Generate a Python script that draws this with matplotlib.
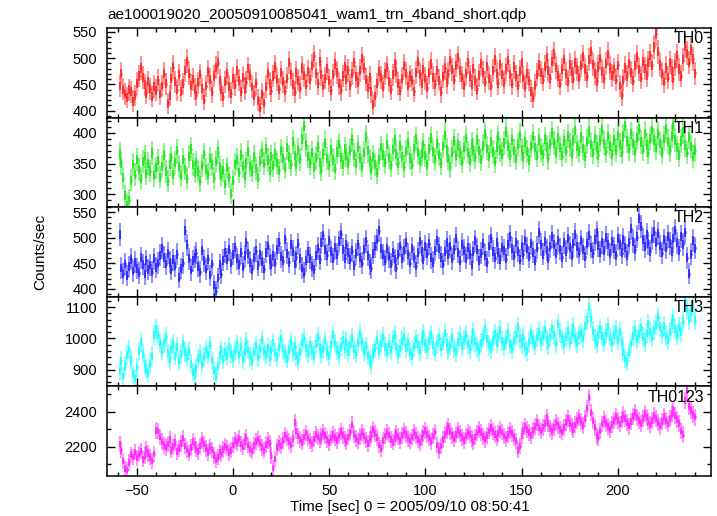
import numpy as np
import matplotlib
matplotlib.use('Agg')
import matplotlib.pyplot as plt
from matplotlib.ticker import MultipleLocator

plt.rcParams['font.family'] = ['Liberation Sans', 'DejaVu Sans']

t_start = -59  # first 1-s bin centre

th0 = [
    447,470,441,432,425,440,436,418,429,452,466,481,463,449,433,455,442,427,446,439,
    458,432,447,470,451,414,429,461,483,455,440,468,437,451,476,494,470,448,459,441,
    430,453,468,442,421,447,475,459,436,466,482,491,458,440,427,455,471,446,433,462,
    449,476,458,437,463,441,455,480,467,445,429,452,420,406,431,415,446,470,452,438,
    466,483,459,441,472,455,438,462,491,469,450,436,473,458,444,481,467,449,475,460,
    486,503,471,452,494,468,447,462,480,457,439,468,489,473,451,440,466,484,459,477,
    448,470,492,465,453,476,499,481,459,444,463,436,412,428,451,475,463,446,470,482,
    456,441,468,490,474,452,439,462,486,471,447,466,458,437,473,493,469,452,478,461,
    444,472,489,463,450,477,458,436,465,481,454,470,495,478,459,486,501,476,463,448,
    471,492,466,449,480,458,441,467,490,473,455,484,461,447,476,496,470,452,488,469,
    454,479,495,468,451,483,466,448,474,492,463,446,471,458,437,425,448,469,487,472,
    459,484,501,476,462,493,508,482,466,451,479,497,470,456,488,474,461,492,478,463,
    486,503,479,465,497,512,488,471,456,483,499,475,462,490,507,481,467,478,459,486,
    447,430,458,481,466,490,473,457,486,502,478,463,494,480,467,491,505,486,521,546,
    512,487,470,455,481,463,492,476,461,488,504,479,466,497,522,509,491,515,498,471,
]

th1 = [
    366,351,327,298,283,291,323,349,332,357,340,326,353,362,334,350,338,367,330,343,
    355,328,346,364,337,321,349,360,333,352,371,345,330,357,341,326,362,374,349,336,
    352,338,322,347,365,341,333,358,349,327,354,369,344,330,339,317,343,328,301,322,
    349,357,336,364,345,329,351,370,346,338,361,342,327,355,368,350,374,356,339,362,
    347,366,352,339,371,358,343,376,361,349,385,363,348,372,357,390,411,380,362,351,
    368,344,359,377,352,340,366,383,358,347,372,356,342,369,381,360,349,374,363,351,
    372,389,364,350,377,359,346,368,393,371,355,341,362,348,335,357,376,364,352,381,
    360,347,373,388,366,351,379,362,345,370,384,359,348,375,390,368,354,366,381,363,
    349,374,392,370,357,383,365,351,378,396,372,358,345,369,387,364,380,367,353,376,
    391,368,356,382,373,360,388,371,357,379,398,375,362,386,369,354,377,393,372,366,
    384,402,379,364,389,371,358,381,396,373,361,385,370,356,378,394,376,363,388,372,
    365,390,377,359,382,400,384,369,392,376,363,387,371,395,381,366,389,404,378,370,
    393,375,362,386,402,381,368,391,377,364,389,405,383,370,394,379,366,388,372,396,
    381,369,395,412,387,374,398,383,370,392,407,385,373,399,381,368,390,404,388,376,
    398,383,369,391,406,386,372,395,411,389,376,364,387,402,380,368,393,378,362,372,
]

th2 = [
    506,441,430,449,426,444,458,435,452,440,431,461,448,429,455,438,447,433,459,442,
    451,466,480,462,449,470,452,438,457,445,468,422,440,451,514,486,459,437,455,462,
    470,444,433,476,455,439,458,427,449,407,395,421,448,430,456,472,458,477,451,468,
    482,459,448,471,443,465,491,470,452,438,461,475,446,468,453,439,472,484,458,447,
    466,451,478,490,463,455,497,470,452,486,474,449,463,488,459,441,432,455,473,460,
    444,438,465,479,458,490,505,478,466,495,473,459,481,468,492,507,477,460,486,471,
    458,475,446,469,487,462,451,478,493,466,448,441,470,483,496,514,480,467,455,479,
    463,449,472,457,441,468,484,460,475,490,468,451,479,462,445,471,492,474,458,483,
    469,488,461,452,476,495,480,462,449,474,491,468,483,459,478,498,472,455,487,475,
    460,481,468,447,473,494,477,456,470,488,466,452,484,499,474,461,490,471,458,482,
    476,459,487,502,479,465,491,474,457,484,468,495,480,463,489,472,456,481,511,487,
    468,492,476,459,483,503,486,470,495,478,462,490,474,499,481,465,488,507,483,471,
    494,478,463,489,504,482,470,496,511,485,472,491,476,500,487,469,493,480,466,498,
    486,471,497,482,466,491,518,493,477,502,538,522,497,483,506,489,474,498,512,490,
    509,484,471,496,481,502,489,474,499,515,490,476,503,487,511,461,430,468,495,480,
]

th3 = [
    896,928,879,913,947,965,931,886,873,908,959,988,951,918,900,890,919,945,1011,1029,
    1012,986,961,985,1004,953,930,966,982,945,972,928,950,983,957,939,961,919,893,883,
    908,936,952,917,941,965,948,978,931,899,878,912,947,962,934,958,945,973,951,936,
    960,981,949,972,934,957,988,964,943,929,958,976,941,967,995,959,948,970,938,963,
    987,955,940,972,999,966,951,935,963,990,957,976,944,930,958,985,1001,969,952,978,
    961,945,982,1006,973,950,967,992,958,944,979,1010,984,962,947,975,996,965,989,957,
    978,1001,967,952,986,1015,988,960,975,946,932,918,951,970,994,961,984,1006,972,955,
    983,962,997,1010,976,950,968,993,1005,969,987,958,945,974,999,982,960,991,1014,985,
    966,992,1011,979,958,984,1003,971,990,1018,986,962,977,1001,968,957,988,1009,976,995,
    1012,981,967,994,1021,989,973,960,985,1006,1030,998,979,966,992,1015,984,1004,1027,993,
    975,996,1018,983,967,992,1012,1036,999,981,1005,972,960,988,1014,995,979,1003,1022,991,
    1009,1028,994,978,1003,1031,1012,985,1047,1016,997,981,1006,1024,990,1013,1035,1001,986,1010,
    1019,1002,1039,1060,1100,1065,1024,999,984,1012,1030,1008,989,1016,1037,1003,987,1011,1028,996,
    1021,990,958,936,925,955,984,1009,1027,997,1015,1032,1004,988,1017,1046,1021,1003,1026,1042,
    1068,1036,1015,1041,1009,995,1022,1048,1063,1031,1010,1037,1020,1055,1121,1094,1060,1083,1105,1058,
]

th0123 = [
    2215,2180,2120,2075,2068,2110,2155,2142,2170,2138,2160,2175,2128,2150,2185,2162,2140,2118,2160,2295,
    2290,2255,2230,2208,2195,2215,2240,2180,2200,2225,2172,2190,2218,2246,2205,2182,2163,2195,2230,2210,
    2188,2172,2205,2236,2215,2190,2168,2200,2182,2150,2125,2140,2170,2158,2185,2205,2192,2168,2180,2210,
    2236,2225,2248,2215,2198,2230,2252,2210,2186,2175,2208,2230,2244,2222,2196,2180,2212,2235,2220,2150,
    2080,2130,2195,2220,2205,2235,2268,2250,2230,2210,2248,2340,2290,2262,2240,2226,2255,2278,2250,2232,
    2215,2244,2270,2255,2238,2260,2284,2266,2242,2225,2250,2272,2254,2236,2262,2288,2265,2244,2228,2256,
    2282,2325,2270,2248,2232,2258,2280,2262,2238,2218,2245,2270,2300,2275,2252,2210,2190,2235,2262,2284,
    2268,2240,2226,2254,2275,2258,2236,2266,2290,2272,2248,2232,2255,2282,2264,2240,2225,2250,2276,2295,
    2272,2250,2230,2262,2285,2210,2178,2205,2242,2270,2295,2318,2288,2266,2245,2270,2292,2276,2252,2236,
    2262,2284,2270,2246,2228,2255,2278,2300,2282,2260,2240,2265,2290,2312,2288,2270,2250,2276,2298,2284,
    2262,2245,2270,2292,2275,2252,2232,2180,2205,2262,2295,2318,2300,2280,2265,2292,2315,2338,2308,2290,
    2310,2335,2365,2330,2306,2288,2312,2340,2322,2300,2284,2310,2338,2360,2332,2314,2296,2325,2350,2370,
    2345,2320,2360,2420,2480,2398,2350,2310,2262,2250,2290,2330,2356,2334,2315,2300,2328,2352,2375,2348,
    2330,2356,2382,2360,2338,2318,2345,2372,2396,2370,2352,2335,2360,2388,2366,2342,2325,2350,2380,2362,
    2340,2318,2346,2374,2352,2330,2362,2390,2415,2380,2355,2335,2290,2270,2465,2520,2430,2405,2385,2370,
]

labels = ["TH0", "TH1", "TH2", "TH3", "TH0123"]
series = [th0, th1, th2, th3, th0123]
colors = ["#ff2a2a", "#22e822", "#2a2aff", "#22ffff", "#ff2aff"]
ylims = [(387, 557), (279, 425), (384.5, 560), (847, 1133), (2033, 2545)]
ymajor = [50, 50, 50, 100, 200]
yminor = [10, 10, 10, 20, 100]
xlim = (-65.5, 248.5)

W, H = 717, 516
fig = plt.figure(figsize=(W / 100, H / 100), dpi=100)
left = 107 / W
width = 604 / W
top_px, bot_px = 28, 476
ph = (bot_px - top_px) / 5

for i, (lab, vals, col) in enumerate(zip(labels, series, colors)):
    top_i = top_px + i * ph
    ax = fig.add_axes([left, 1 - (top_i + ph) / H, width, ph / H])
    v = np.asarray(vals, dtype=float)
    t = t_start + np.arange(len(v))
    err = np.sqrt(v)
    ax.errorbar(t, v, yerr=err, fmt='none', ecolor=col, elinewidth=1.5,
                alpha=0.5, capsize=0)
    ax.errorbar(t, v, xerr=0.5, fmt='none', ecolor=col, elinewidth=2.0,
                capsize=0)
    ax.errorbar(t, v, yerr=err * 0.4, fmt='none', ecolor=col, elinewidth=1.4,
                capsize=0, alpha=0.9)
    ax.set_xlim(*xlim)
    ax.set_ylim(*ylims[i])
    ax.xaxis.set_major_locator(MultipleLocator(50))
    ax.xaxis.set_minor_locator(MultipleLocator(10))
    ax.yaxis.set_major_locator(MultipleLocator(ymajor[i]))
    ax.yaxis.set_minor_locator(MultipleLocator(yminor[i]))
    ax.tick_params(which='both', direction='in', top=True, right=True,
                   width=1.0, labelsize=10.5)
    ax.tick_params(which='major', length=6)
    ax.tick_params(which='minor', length=3)
    ax.tick_params(axis='y', pad=7)
    ax.tick_params(axis='x', pad=6)
    for s in ax.spines.values():
        s.set_linewidth(1.1)
    if i < 4:
        ax.tick_params(axis='x', labelbottom=False)
    ax.text(0.988, 0.965, lab, transform=ax.transAxes, ha='right', va='top',
            fontsize=11.5)

fig.text(107 / W, 1 - 19 / H, "ae100019020_20050910085041_wam1_trn_4band_short.qdp",
         ha='left', va='baseline', fontsize=11)
fig.text(40 / W, 1 - 252 / H, "Counts/sec", rotation=90, ha='center', va='center',
         fontsize=11)
fig.text(410 / W, 1 - 507 / H, "Time [sec] 0 = 2005/09/10 08:50:41", ha='center',
         va='center', fontsize=11)

fig.savefig("out.png", dpi=100)
